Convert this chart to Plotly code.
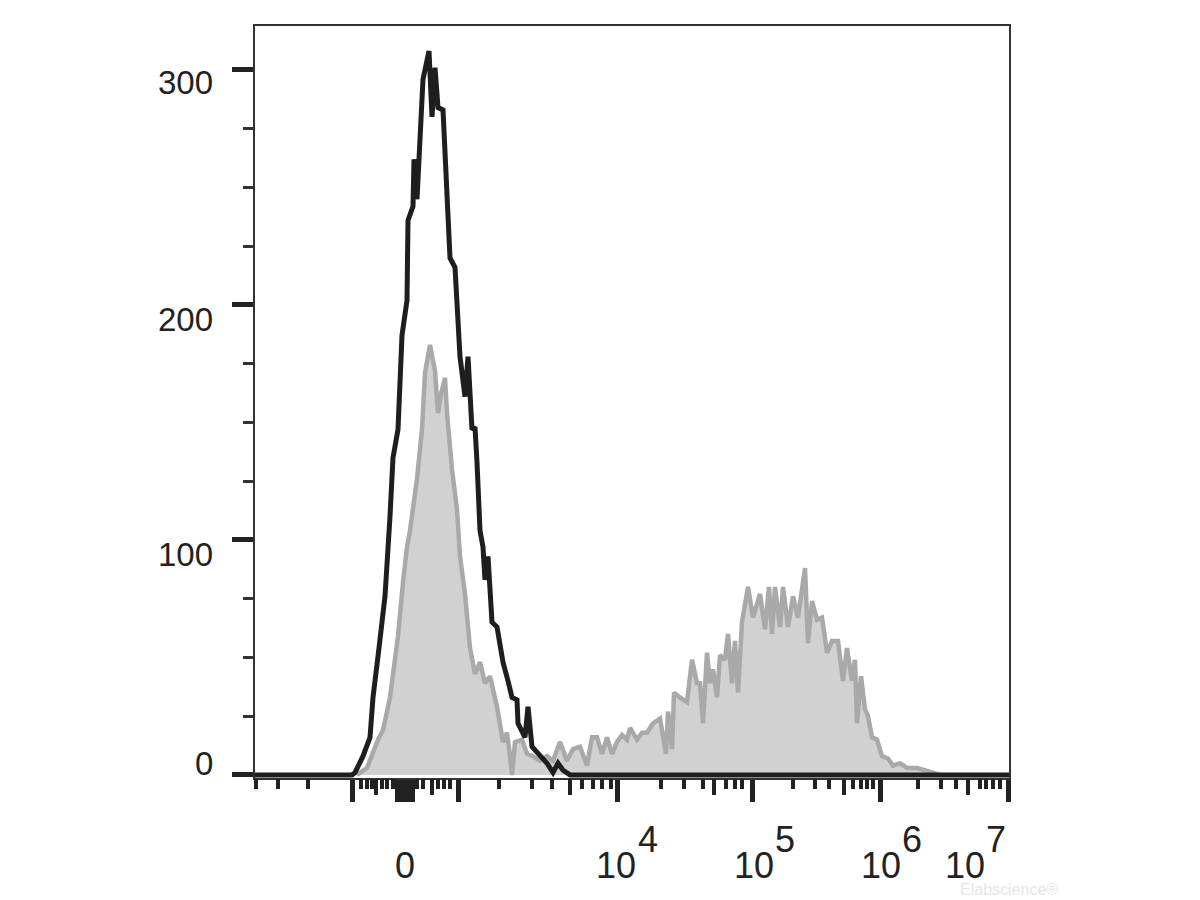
import plotly.graph_objects as go

# ---------------- data (x in display channels of the biexponential axis) -------------
chan_black = [0, 97, 100, 105, 108, 115, 118, 124, 130, 135, 138, 143, 147, 152, 153, 158,
              159, 162, 167, 168, 174, 177, 180, 183, 188, 190, 193, 195, 200, 202, 205, 210,
              213, 217, 220, 222, 225, 228, 230, 233, 237, 242, 248, 253, 257, 262, 263, 270,
              273, 277, 285, 292, 298, 303, 308, 315, 754]
count_black = [0, 0, 1, 5, 8, 16, 33, 54, 76, 110, 135, 147, 187, 202, 236, 242,
               262, 245, 284, 296, 308, 280, 301, 284, 283, 265, 249, 220, 216, 200, 178, 161,
               178, 147, 148, 133, 104, 97, 83, 93, 65, 63, 48, 40, 33, 32, 22, 16,
               29, 12, 8, 5, 1, 5, 2, 0, 0]

chan_gray = [102, 112, 123, 128, 135, 138, 143, 148, 152, 155, 162, 167, 170, 175, 180, 183,
             186, 190, 192, 197, 202, 205, 210, 215, 220, 225, 230, 235, 242, 248, 252, 255,
             257, 260, 267, 272, 278, 285, 292, 298, 305, 312, 318, 325, 332, 337, 342, 347,
             352, 357, 362, 367, 372, 375, 382, 387, 392, 398, 405, 411, 413, 417, 419, 425,
             432, 437, 442, 445, 448, 452, 455, 458, 462, 465, 470, 473, 477, 480, 483, 487,
             493, 498, 505, 510, 514, 517, 520, 525, 528, 533, 538, 543, 550, 553, 557, 562,
             567, 572, 577, 583, 588, 592, 597, 600, 602, 606, 610, 613, 617, 622, 627, 633,
             638, 645, 652, 662, 672, 678, 685]
count_gray = [0, 3, 15, 19, 33, 42, 59, 82, 97, 104, 126, 147, 171, 183, 172, 154,
              162, 169, 154, 130, 113, 93, 77, 54, 43, 48, 39, 42, 29, 14, 18, 8,
              0, 14, 15, 9, 8, 6, 8, 6, 14, 6, 11, 12, 4, 16, 16, 9,
              16, 9, 14, 17, 15, 20, 15, 18, 18, 22, 24, 9, 27, 11, 35, 33,
              31, 49, 39, 39, 22, 52, 39, 45, 33, 51, 49, 60, 39, 57, 35, 65,
              80, 67, 77, 62, 80, 60, 80, 63, 80, 63, 76, 67, 88, 56, 74, 66,
              67, 52, 57, 57, 40, 54, 40, 49, 22, 42, 28, 25, 16, 15, 8, 7,
              4, 5, 3, 3, 2, 1, 0]

# axis ticks (display channels)
x_major_ticks = [97, 142, 145, 148, 151, 154, 157, 203, 362, 497, 625, 753]
x_mid_ticks = [121, 177, 315, 459, 589, 713]
x_minor_ticks = [1, 23, 53, 106, 112, 117, 127, 132, 138, 162, 168, 183, 189, 195,
                 244, 277, 297, 327, 338, 347, 356, 406, 429, 448, 471, 480, 487,
                 538, 560, 574, 598, 606, 612, 618, 663, 686, 701, 725, 731, 738, 745]
x_label_base = ["0", "10", "10", "10", "10"]
x_label_base_pos = [150, 361, 499, 626, 710]
x_label_exp = ["4", "5", "6", "7"]
x_label_exp_pos = [393, 530, 657, 741]

y_ticks = [0, 100, 200, 300]
y_labels = ["0", "100", "200", "300"]
y_label_pos = [4.7, 94, 193.6, 294.5]

X_RANGE = [0, 754]
Y_RANGE = [-1.3, 318.7]

fig = go.Figure()
fig.add_trace(go.Scatter(x=chan_gray, y=count_gray, mode="lines", fill="tozeroy",
                         fillcolor="#d1d1d1", line=dict(color="#a9a9a9", width=4.5),
                         hoverinfo="skip", showlegend=False))
fig.add_trace(go.Scatter(x=chan_black, y=count_black, mode="lines",
                         line=dict(color="#1e1e1e", width=5),
                         hoverinfo="skip", showlegend=False))

axis_common = dict(range=X_RANGE, showgrid=False, zeroline=False, tickmode="array",
                   showticklabels=False, ticks="outside", tickcolor="#222")
fig.update_layout(
    width=1192, height=892,
    margin=dict(l=247, r=191, t=18, b=122),
    paper_bgcolor="white", plot_bgcolor="white",
    xaxis=dict(**axis_common, tickvals=x_major_ticks, ticklen=22, tickwidth=5,
               showline=True, linecolor="#333", linewidth=2, mirror=True),
    xaxis2=dict(**axis_common, tickvals=x_mid_ticks, ticklen=16, tickwidth=4,
                overlaying="x", anchor="y", side="bottom", showline=False),
    xaxis3=dict(**axis_common, tickvals=x_minor_ticks, ticklen=10, tickwidth=3.5,
                overlaying="x", anchor="y", side="bottom", showline=False),
    yaxis=dict(range=Y_RANGE, showgrid=False, zeroline=False, tickmode="array",
               tickvals=y_ticks, showticklabels=False, ticks="outside", ticklen=21,
               tickwidth=5, tickcolor="#222",
               minor=dict(dtick=25, tick0=0, ticks="outside", ticklen=10, tickwidth=3,
                          tickcolor="#333", showgrid=False),
               showline=True, linecolor="#333", linewidth=2, mirror=True),
)
# invisible anchor traces so overlay axes get drawn
fig.add_trace(go.Scatter(x=[None], y=[None], xaxis="x2", showlegend=False, hoverinfo="skip"))
fig.add_trace(go.Scatter(x=[None], y=[None], xaxis="x3", showlegend=False, hoverinfo="skip"))

annotations = []
for txt, pos in zip(y_labels, y_label_pos):
    annotations.append(dict(x=-0.053, xref="paper", y=pos, yref="y", text=txt,
                            showarrow=False, xanchor="right", yanchor="middle",
                            font=dict(family="Liberation Sans, Arial", size=33, color="#222")))
xfont = dict(family="Liberation Sans Narrow, Arial Narrow, Liberation Sans", size=36, color="#222")
for txt, pos in zip(x_label_base, x_label_base_pos):
    annotations.append(dict(x=pos, xref="x", y=-0.117, yref="paper", text=txt,
                            showarrow=False, xanchor="center", yanchor="middle", font=xfont))
for txt, pos in zip(x_label_exp, x_label_exp_pos):
    annotations.append(dict(x=pos, xref="x", y=-0.082, yref="paper", text=txt,
                            showarrow=False, xanchor="center", yanchor="middle", font=xfont))
annotations.append(dict(x=1.0, xref="paper", y=-0.148, yref="paper", text="Elabscience®",
                        showarrow=False, xanchor="center", yanchor="middle",
                        font=dict(family="Liberation Sans Narrow, Liberation Sans", size=16,
                                  color="#e6e6e6")))
fig.update_layout(annotations=annotations)

fig.write_html("out.html")
